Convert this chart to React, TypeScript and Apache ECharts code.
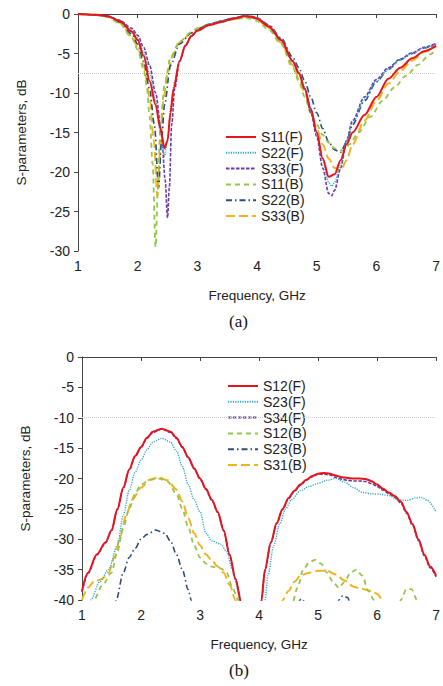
import React, { useEffect, useRef } from "react";
import * as echarts from "echarts";

// ---------- Chart (a): reflection coefficients ----------
const s11F = [[1,0],[1.3,-0.1],[1.5,-0.3],[1.7,-0.9],[1.9,-2.2],[2.0,-3.3],[2.1,-5.3],[2.2,-8.5],[2.3,-11.5],[2.38,-14.5],[2.45,-17],[2.5,-16],[2.55,-12.5],[2.6,-9.5],[2.7,-6],[2.8,-4],[2.9,-2.8],[3.0,-2.1],[3.2,-1.4],[3.4,-1],[3.6,-0.6],[3.8,-0.3],[3.9,-0.35],[4.0,-0.6],[4.2,-1.6],[4.4,-3.3],[4.6,-6],[4.7,-7.5],[4.8,-9.5],[4.9,-12],[5.0,-15],[5.1,-18.3],[5.2,-20.6],[5.3,-20.3],[5.4,-18.5],[5.5,-16.5],[5.6,-15],[5.8,-12.8],[6.0,-10.5],[6.2,-8.2],[6.4,-6.8],[6.6,-5.6],[6.8,-4.7],[7.0,-4]];
const s22F = [[1,0],[1.3,-0.1],[1.5,-0.3],[1.7,-0.85],[1.9,-2],[2.0,-3],[2.1,-4.8],[2.2,-7.5],[2.3,-11],[2.38,-15],[2.45,-18],[2.5,-16],[2.56,-11.5],[2.62,-8.5],[2.7,-6],[2.8,-4],[2.9,-2.8],[3.0,-2.1],[3.2,-1.3],[3.4,-0.9],[3.6,-0.5],[3.8,-0.25],[3.9,-0.3],[4.0,-0.5],[4.2,-1.5],[4.4,-3.1],[4.6,-5.8],[4.7,-7.3],[4.8,-9.3],[4.9,-12],[5.0,-15],[5.1,-18.5],[5.2,-21.3],[5.25,-21.8],[5.3,-21.3],[5.4,-19],[5.5,-16],[5.6,-13.8],[5.8,-10.8],[6.0,-8.5],[6.2,-7],[6.4,-5.8],[6.6,-5],[6.8,-4.3],[7.0,-3.8]];
const s33F = [[1,0],[1.3,-0.1],[1.5,-0.3],[1.7,-0.8],[1.9,-1.8],[2.0,-2.7],[2.1,-4.2],[2.2,-6.5],[2.3,-10],[2.4,-15],[2.46,-21],[2.5,-25.8],[2.53,-22],[2.57,-14],[2.62,-9.5],[2.7,-6],[2.8,-4],[2.9,-2.8],[3.0,-2.1],[3.2,-1.3],[3.4,-0.9],[3.6,-0.5],[3.8,-0.25],[3.9,-0.3],[4.0,-0.5],[4.2,-1.5],[4.4,-3.2],[4.6,-6],[4.7,-7.5],[4.8,-9.5],[4.9,-12.5],[5.0,-15.5],[5.1,-19.5],[5.2,-22.7],[5.25,-23],[5.3,-22.3],[5.4,-19.5],[5.5,-16],[5.6,-13.5],[5.8,-10.5],[6.0,-8.3],[6.2,-6.8],[6.4,-5.7],[6.6,-4.9],[6.8,-4.2],[7.0,-3.7]];
const s11B = [[1,0],[1.3,-0.15],[1.5,-0.4],[1.7,-1.2],[1.9,-3],[2.0,-4.5],[2.1,-7],[2.15,-9],[2.2,-13],[2.25,-19],[2.3,-29.5],[2.34,-22],[2.38,-14],[2.45,-9],[2.55,-5.5],[2.7,-3.5],[2.9,-2.3],[3.0,-1.8],[3.2,-1.3],[3.4,-1],[3.6,-0.7],[3.8,-0.5],[3.9,-0.6],[4.0,-0.9],[4.2,-2],[4.4,-3.8],[4.6,-6.8],[4.7,-8.5],[4.8,-10.5],[4.9,-12.5],[5.0,-14],[5.1,-15.3],[5.2,-16.3],[5.3,-17],[5.45,-17.3],[5.55,-16.5],[5.7,-15],[5.9,-13],[6.1,-11],[6.3,-9.3],[6.5,-7.8],[6.7,-6.4],[6.9,-5.1],[7.0,-4.5]];
const s22B = [[1,0],[1.3,-0.1],[1.5,-0.3],[1.7,-1],[1.9,-2.5],[2.0,-3.8],[2.1,-6],[2.2,-9.5],[2.28,-14],[2.35,-22],[2.4,-16],[2.45,-11.5],[2.55,-6.5],[2.7,-3.8],[2.9,-2.4],[3.0,-1.9],[3.2,-1.3],[3.4,-0.9],[3.6,-0.5],[3.8,-0.25],[3.9,-0.3],[4.0,-0.5],[4.2,-1.4],[4.4,-3],[4.6,-5.5],[4.7,-6.8],[4.8,-8.5],[4.9,-10.5],[5.0,-12.5],[5.1,-14.5],[5.2,-16.2],[5.3,-17.2],[5.4,-17.5],[5.5,-16.2],[5.6,-14],[5.8,-11],[6.0,-8.6],[6.2,-7],[6.4,-5.8],[6.6,-5],[6.8,-4.3],[7.0,-3.8]];
const s33B = [[1,0],[1.3,-0.1],[1.5,-0.3],[1.7,-1.1],[1.9,-2.8],[2.0,-4.2],[2.1,-6.5],[2.2,-10.5],[2.27,-16],[2.33,-23],[2.38,-17],[2.43,-11],[2.5,-7.5],[2.6,-5],[2.7,-3.6],[2.9,-2.4],[3.0,-1.9],[3.2,-1.3],[3.4,-0.9],[3.6,-0.6],[3.8,-0.4],[3.9,-0.45],[4.0,-0.7],[4.2,-1.8],[4.4,-3.6],[4.6,-6.5],[4.7,-8.2],[4.8,-10],[4.9,-12.2],[5.0,-14.5],[5.1,-16.5],[5.2,-18.3],[5.3,-19.5],[5.4,-19.8],[5.5,-18.5],[5.6,-16.5],[5.8,-13.5],[6.0,-11],[6.2,-8.8],[6.4,-7.2],[6.6,-5.9],[6.8,-4.8],[7.0,-4.1]];

// ---------- Chart (b): transmission coefficients (values below -40 are clipped) ----------
const s12F = [[1,-38.5],[1.1,-35.5],[1.25,-32.5],[1.4,-30.5],[1.5,-28.5],[1.6,-25],[1.7,-21.5],[1.8,-18.5],[1.9,-16.3],[2.0,-14.8],[2.1,-13.3],[2.2,-12.3],[2.35,-11.8],[2.5,-12.3],[2.6,-13.3],[2.7,-14.8],[2.8,-16.5],[2.9,-18.3],[3.0,-20],[3.1,-21.7],[3.2,-23.5],[3.3,-25.5],[3.4,-28.5],[3.5,-32.5],[3.6,-36.5],[3.7,-40.5],[3.75,-44],[4.0,-44],[4.04,-40],[4.1,-35],[4.2,-30.5],[4.3,-27.3],[4.4,-25],[4.5,-23.2],[4.6,-22],[4.7,-21],[4.8,-20.2],[4.9,-19.6],[5.0,-19.2],[5.1,-19.1],[5.2,-19.2],[5.3,-19.5],[5.4,-19.8],[5.5,-19.9],[5.6,-20],[5.7,-20],[5.8,-20.1],[5.9,-20.4],[6.0,-21],[6.1,-21.7],[6.2,-22.3],[6.3,-22.9],[6.4,-23.8],[6.5,-25.5],[6.6,-27.5],[6.7,-30],[6.8,-32.5],[6.9,-34.5],[7.0,-36]];
const s23F = [[1.1,-44],[1.15,-40],[1.3,-37],[1.45,-35],[1.6,-31],[1.7,-26],[1.8,-22],[1.9,-19],[2.0,-17],[2.1,-15.3],[2.2,-14],[2.35,-13.4],[2.5,-14],[2.6,-15.5],[2.7,-18],[2.8,-21],[2.9,-23.5],[3.0,-25.5],[3.1,-29],[3.2,-30.3],[3.35,-30.8],[3.45,-32],[3.55,-35],[3.65,-38.5],[3.72,-41],[3.76,-44],[4.05,-44],[4.1,-40],[4.15,-36],[4.25,-31],[4.35,-27.5],[4.45,-25],[4.55,-23.5],[4.7,-22],[4.85,-21.3],[5.0,-20.8],[5.15,-20.3],[5.3,-20],[5.45,-20.6],[5.6,-21.5],[5.75,-22.3],[5.9,-22.5],[6.05,-22.6],[6.2,-22.8],[6.35,-23.5],[6.5,-23.6],[6.65,-23.2],[6.75,-23.1],[6.85,-23.6],[7.0,-25.5]];
const s34F = [[1,-38.7],[1.1,-35.7],[1.25,-32.6],[1.4,-30.6],[1.5,-28.6],[1.6,-25.1],[1.7,-21.6],[1.8,-18.6],[1.9,-16.4],[2.0,-14.9],[2.1,-13.4],[2.2,-12.4],[2.35,-11.9],[2.5,-12.4],[2.6,-13.4],[2.7,-14.9],[2.8,-16.6],[2.9,-18.4],[3.0,-20.1],[3.1,-21.8],[3.2,-23.6],[3.3,-25.6],[3.4,-28.6],[3.5,-32.6],[3.6,-36.6],[3.7,-40.6],[3.75,-44],[4.0,-44],[4.04,-40.2],[4.1,-35.2],[4.2,-30.6],[4.3,-27.4],[4.4,-25.1],[4.5,-23.3],[4.6,-22.1],[4.7,-21.1],[4.8,-20.3],[4.9,-19.7],[5.0,-19.3],[5.1,-19.3],[5.2,-19.4],[5.3,-19.8],[5.4,-20.1],[5.5,-20.3],[5.6,-20.4],[5.7,-20.4],[5.8,-20.5],[5.9,-20.8],[6.0,-21.3],[6.1,-21.9],[6.2,-22.5],[6.3,-23.1],[6.4,-24],[6.5,-25.7],[6.6,-27.7],[6.7,-30.2],[6.8,-32.7],[6.9,-34.7],[7.0,-36.2]];
const s12B = [[1.15,-44],[1.2,-40],[1.35,-37.5],[1.5,-35.5],[1.6,-32],[1.7,-28],[1.8,-25],[1.9,-22.5],[2.0,-21],[2.15,-20.2],[2.3,-20],[2.45,-20.5],[2.6,-22.5],[2.7,-25],[2.8,-28],[2.9,-31],[3.0,-33],[3.1,-34],[3.2,-34.5],[3.35,-34.8],[3.45,-35.5],[3.55,-38],[3.65,-40],[3.7,-44],[4.5,-44],[4.55,-41],[4.65,-38],[4.75,-35],[4.85,-33.8],[4.95,-33.4],[5.05,-34],[5.15,-35.5],[5.25,-37],[5.35,-38],[5.45,-37],[5.55,-35.5],[5.65,-35],[5.75,-36],[5.85,-38.5],[5.95,-40],[6.0,-44],[6.35,-44],[6.4,-40],[6.5,-38.2],[6.58,-38.2],[6.68,-40],[6.72,-44]];
const s23B = [[1.52,-44],[1.58,-40],[1.7,-35.5],[1.8,-33],[1.9,-31.5],[2.0,-30],[2.1,-29.2],[2.25,-28.5],[2.4,-29],[2.5,-30.3],[2.6,-32.5],[2.7,-35],[2.8,-38.3],[2.85,-40],[2.9,-44],[4.6,-44],[4.65,-40.5],[4.72,-39.8],[4.8,-40.6],[4.85,-44],[5.3,-44],[5.35,-40],[5.42,-39.3],[5.5,-39.6],[5.56,-41],[5.6,-44]];
const s31B = [[1.0,-40],[1.1,-38],[1.2,-37],[1.35,-36.5],[1.45,-35.5],[1.55,-33],[1.65,-29.5],[1.75,-26],[1.85,-23.5],[2.0,-21.5],[2.15,-20.2],[2.3,-19.8],[2.45,-20.3],[2.6,-21.8],[2.7,-23.8],[2.8,-26.5],[2.9,-29],[3.0,-31],[3.1,-32.5],[3.2,-33.5],[3.3,-34.5],[3.4,-35.5],[3.5,-37.5],[3.6,-40],[3.65,-44],[4.35,-44],[4.4,-40],[4.5,-38.5],[4.6,-37],[4.7,-36],[4.85,-35.5],[5.0,-35.2],[5.15,-35.2],[5.3,-35.8],[5.45,-36.8],[5.6,-37.8],[5.75,-38.2],[5.9,-38.5],[6.0,-39],[6.1,-40],[6.15,-44]];

const namesA = ["S11(F)", "S22(F)", "S33(F)", "S11(B)", "S22(B)", "S33(B)"];
const namesB = ["S12(F)", "S23(F)", "S34(F)", "S12(B)", "S23(B)", "S31(B)"];
const xTicks = [1, 7, 1]; // min, max, interval
const refLineA = -7.45;
const refLineB = -9.9;

const colors = ["#e8141b", "#35a9cc", "#6b3ea3", "#93c64a", "#2c4e7c", "#f2b31c"];
const dashes: any[] = ["solid", [1.2, 1.2], [3.5, 1.5], [5, 4], [6, 3, 1.5, 3], [9, 4]];
const widths = [2, 1.4, 1.6, 1.8, 1.6, 2];

const FONT = "'Liberation Sans', Arial, sans-serif";

export default function App() {
  const ref = useRef<HTMLDivElement>(null);
  useEffect(() => {
    if (!ref.current) return;
    const chart = echarts.init(ref.current, undefined, { renderer: "svg" });
    const dataA = [s11F, s22F, s33F, s11B, s22B, s33B];
    const dataB = [s12F, s23F, s34F, s12B, s23B, s31B];
    const mk = (name: string, data: number[][], i: number, idx: number) => ({
      type: "line",
      name,
      data,
      xAxisIndex: idx,
      yAxisIndex: idx,
      showSymbol: false,
      symbol: "none",
      smooth: 0.3,
      smoothMonotone: "x",
      clip: true,
      z: 10 - i,
      lineStyle: { color: colors[i], width: widths[i], type: dashes[i] },
      itemStyle: { color: colors[i] },
    });
    const refLine = (idx: number, y: number) => ({
      type: "line",
      data: [],
      xAxisIndex: idx,
      yAxisIndex: idx,
      silent: true,
      markLine: {
        silent: true,
        symbol: "none",
        label: { show: false },
        lineStyle: { color: "#cfcfcf", width: 1, type: [1, 1] },
        data: [{ yAxis: y }],
      },
    });
    const axisCommon = {
      axisLine: { show: true, lineStyle: { color: "#444", width: 1 } },
      axisTick: { show: true, length: 4, lineStyle: { color: "#444" } },
      splitLine: { show: false },
      axisLabel: { color: "#222", fontSize: 14, fontFamily: FONT },
      nameTextStyle: { color: "#222", fontSize: 13.5, fontFamily: FONT },
    };
    const legendCommon = {
      orient: "vertical",
      itemWidth: 30,
      itemHeight: 14,
      itemGap: 1.8,
      itemStyle: { opacity: 0 },
      textStyle: { color: "#222", fontSize: 14, fontFamily: FONT },
      selectedMode: false,
    };
    chart.setOption({
      animation: false,
      backgroundColor: "#ffffff",
      grid: [
        { left: 78, top: 14, width: 363, height: 237 },
        { left: 82, top: 357, width: 355, height: 243 },
      ],
      xAxis: [0, 1].map((g) => ({
        ...axisCommon,
        type: "value",
        gridIndex: g,
        min: xTicks[0],
        max: xTicks[1],
        interval: xTicks[2],
        name: "Frequency, GHz",
        nameLocation: "middle",
        nameGap: 37,
        axisLabel: { ...axisCommon.axisLabel, margin: 8 },
      })),
      yAxis: [
        { ...axisCommon, type: "value", gridIndex: 0, min: -30, max: 0, interval: 5, name: "S-parameters, dB", nameLocation: "middle", nameGap: 50 },
        { ...axisCommon, type: "value", gridIndex: 1, min: -40, max: 0, interval: 5, name: "S-parameters, dB", nameLocation: "middle", nameGap: 50 },
      ],
      legend: [
        { ...legendCommon, data: namesA, left: 220, top: 125 },
        { ...legendCommon, data: namesB, left: 222, top: 374 },
      ],
      graphic: [
        { type: "text", left: 229, top: 313, style: { text: "(a)", fontSize: 17, fontFamily: "'Liberation Serif', 'Times New Roman', serif", fill: "#111" } },
        { type: "text", left: 229, top: 662, style: { text: "(b)", fontSize: 17, fontFamily: "'Liberation Serif', 'Times New Roman', serif", fill: "#111" } },
      ],
      series: [
        ...dataA.map((d, i) => mk(namesA[i], d, i, 0)),
        ...dataB.map((d, i) => mk(namesB[i], d, i, 1)),
        refLine(0, refLineA),
        refLine(1, refLineB),
      ],
    });
    return () => chart.dispose();
  }, []);
  return <div ref={ref} style={{ position: "absolute", left: 0, top: 0, width: 443, height: 686 }} />;
}
